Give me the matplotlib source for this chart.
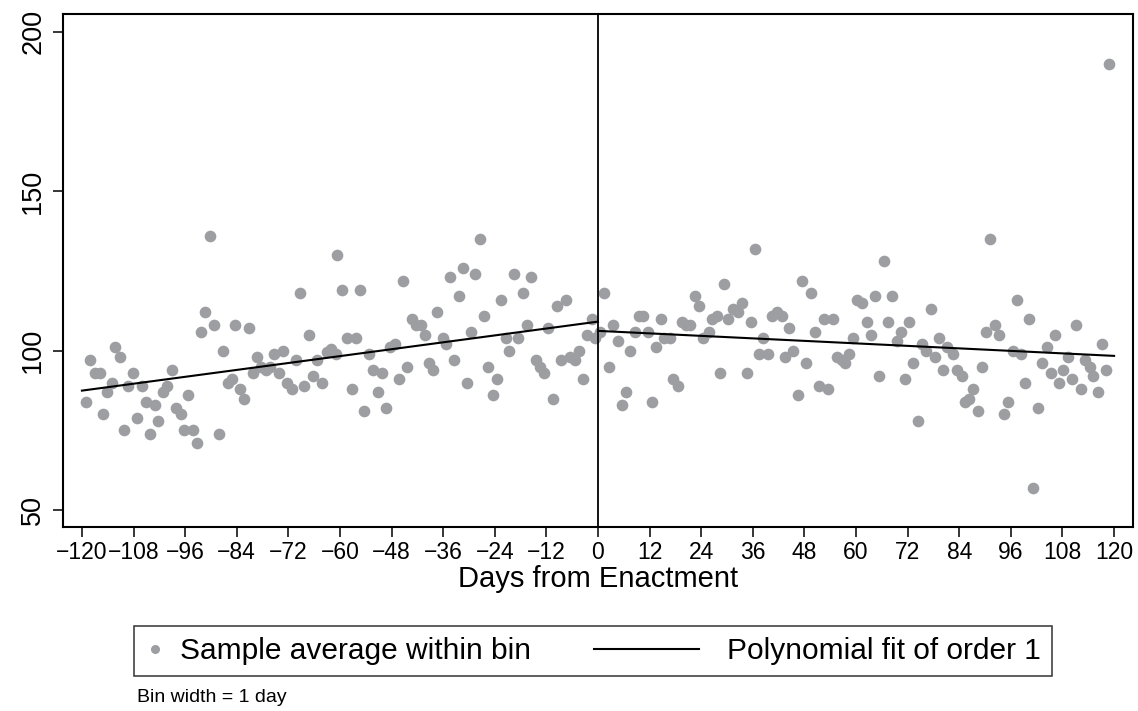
import numpy as np
import matplotlib
matplotlib.use("Agg")
import matplotlib.pyplot as plt
from matplotlib.lines import Line2D
from matplotlib.legend_handler import HandlerLine2D

plt.rcParams["font.family"] = ["Liberation Sans", "DejaVu Sans"]

# bin averages, days before enactment
left_x = [-119.1, -118.1, -117.0, -115.8, -115.2, -114.1, -113.1, -112.2, -111.2, -110.2,
          -109.2, -108.1, -107.2, -106.1, -105.1, -104.2, -103.0, -102.2, -101.1, -100.3,
          -99.1, -98.1, -97.0, -96.2, -95.3, -94.1, -93.2, -92.2, -91.4, -90.2,
          -89.2, -88.1, -87.3, -86.1, -85.2, -84.3, -83.3, -82.3, -81.2, -80.2,
          -79.2, -78.4, -77.3, -76.3, -75.3, -74.2, -73.2, -72.3, -71.2, -70.2,
          -69.3, -68.3, -67.2, -66.2, -65.3, -64.2, -63.1, -62.2, -61.0, -60.6,
          -59.5, -58.4, -57.3, -56.3, -55.3, -54.3, -53.3, -52.3, -51.2, -50.3,
          -49.3, -48.4, -47.2, -46.3, -45.3, -44.3, -43.3, -42.3, -41.2, -40.2,
          -39.3, -38.3, -37.4, -36.1, -35.3, -34.4, -33.4, -32.3, -31.5, -30.5,
          -29.6, -28.5, -27.4, -26.6, -25.5, -24.5, -23.4, -22.5, -21.5, -20.6,
          -19.6, -18.5, -17.5, -16.4, -15.5, -14.5, -13.6, -12.5, -11.6, -10.4,
          -9.5, -8.5, -7.5, -6.5, -5.4, -4.4, -3.4, -2.5, -1.5, -0.6]
left_y = [84, 97, 93, 93, 80, 87, 90, 101, 98, 75,
          89, 93, 79, 89, 84, 74, 83, 78, 87, 89,
          94, 82, 80, 75, 86, 75, 71, 106, 112, 136,
          108, 74, 100, 90, 91, 108, 88, 85, 107, 93,
          98, 95, 94, 95, 99, 93, 100, 90, 88, 97,
          118, 89, 105, 92, 97, 90, 99.5, 100.5, 99, 130,
          119, 104, 88, 104, 119, 81, 99, 94, 87, 93,
          82, 101, 102, 91, 122, 95, 110, 108, 108, 105,
          96, 94, 112, 104, 102, 123, 97, 117, 126, 90,
          106, 124, 135, 111, 95, 86, 91, 116, 104, 100,
          124, 104, 118, 108, 123, 97, 95, 93, 107, 85,
          114, 97, 116, 98, 97, 100, 91, 105, 110, 104]

# bin averages, days after enactment
right_x = [0.5, 1.5, 2.6, 3.6, 4.6, 5.5, 6.5, 7.4, 8.6, 9.6,
           10.5, 11.6, 12.5, 13.5, 14.6, 15.3, 16.7, 17.5, 18.5, 19.5,
           20.5, 21.4, 22.6, 23.6, 24.5, 25.7, 26.4, 27.6, 28.4, 29.3,
           30.3, 31.5, 32.6, 33.4, 34.6, 35.5, 36.5, 37.5, 38.4, 39.6,
           40.4, 41.6, 42.7, 43.5, 44.4, 45.4, 46.4, 47.4, 48.4, 49.5,
           50.5, 51.5, 52.6, 53.4, 54.6, 55.5, 56.7, 57.4, 58.4, 59.4,
           60.2, 61.5, 62.5, 63.4, 64.4, 65.3, 66.4, 67.4, 68.3, 69.5,
           70.4, 71.4, 72.4, 73.3, 74.3, 75.3, 76.3, 77.4, 78.4, 79.4,
           80.3, 81.2, 82.5, 83.4, 84.6, 85.3, 86.3, 87.3, 88.3, 89.2,
           90.2, 91.2, 92.3, 93.3, 94.3, 95.4, 96.4, 97.4, 98.3, 99.3,
           100.3, 101.2, 102.2, 103.3, 104.3, 105.3, 106.3, 107.3, 108.2, 109.2,
           110.3, 111.2, 112.3, 113.3, 114.3, 115.2, 116.2, 117.3, 118.1, 118.8]
right_y = [106, 118, 95, 108, 103, 83, 87, 100, 106, 111,
           111, 106, 84, 101, 110, 104, 104, 91, 89, 109,
           108, 108, 117, 114, 104, 106, 110, 111, 93, 121,
           110, 113, 112, 115, 93, 109, 132, 99, 104, 99,
           111, 112, 111, 98, 107, 100, 86, 122, 96, 118,
           106, 89, 110, 88, 110, 98, 97, 96, 99, 104,
           116, 115, 109, 105, 117, 92, 128, 109, 117, 103,
           106, 91, 109, 96, 78, 102, 100, 113, 98, 104,
           94, 101, 99, 94, 92, 84, 85, 88, 81, 95,
           106, 135, 108, 105, 80, 84, 100, 116, 99, 90,
           110, 57, 82, 96, 101, 93, 105, 90, 94, 98,
           91, 108, 88, 97, 95, 92, 87, 102, 94, 190]

x_ticks = list(range(-120, 121, 12))
y_ticks = [50, 100, 150, 200]

dot_color = "#9d9ea2"


class LongLineHandler(HandlerLine2D):
    # Stata-style legend key: a long line that sits left of the text
    def get_xdata(self, legend, xdescent, ydescent, width, height, fontsize):
        end = -xdescent + width - 0.38 * fontsize
        xd = np.array([end - 3.5 * fontsize, end])
        return xd, xd


fig = plt.figure(figsize=(11.38, 7.11), dpi=100)
ax = fig.add_axes([63 / 1138, 1 - 527 / 711, 1070 / 1138, 513 / 711])

ax.plot(left_x, left_y, "o", color=dot_color, ms=8.4, mec="none", zorder=2)
ax.plot(right_x, right_y, "o", color=dot_color, ms=8.4, mec="none", zorder=2)

# linear fits on each side of the cutoff
bl = np.polyfit(left_x, left_y, 1)
br = np.polyfit(right_x, right_y, 1)
xl = np.array([-120, 0])
xr = np.array([0, 120])
ax.plot(xl, np.polyval(bl, xl), color="black", lw=1.5, zorder=3)
ax.plot(xr, np.polyval(br, xr), color="black", lw=1.5, zorder=3)

ax.axvline(0, color="black", lw=1.3, zorder=3)

ax.set_xlim(-124.4, 124.4)
ax.set_ylim(44.7, 205.6)
ax.set_xticks(x_ticks)
ax.set_yticks(y_ticks)
ax.tick_params(axis="x", labelsize=16.5, length=7, width=1.1, pad=3)
ax.tick_params(axis="y", labelsize=19.5, length=7, width=1.1, pad=5)
for lab in ax.get_yticklabels():
    lab.set_rotation(90)
    lab.set_va("center")
for sp in ax.spines.values():
    sp.set_linewidth(1.5)
ax.set_xlabel("Days from Enactment", fontsize=21, labelpad=1)

h_dot = Line2D([], [], marker="o", ls="none", color=dot_color, ms=6.5, mec="none")
h_line = Line2D([], [], color="black", lw=1.5)
leg = fig.legend([h_dot, h_line],
                 ["Sample average within bin", "Polynomial fit of order 1"],
                 handler_map={h_line: LongLineHandler()},
                 loc="center", bbox_to_anchor=(593 / 1138, 1 - 651 / 711),
                 ncol=2, fontsize=21.5, frameon=True, fancybox=False,
                 handlelength=0.6, handletextpad=0.55, columnspacing=5.4,
                 borderpad=0.38, numpoints=1)
leg.get_frame().set_edgecolor("black")
leg.get_frame().set_linewidth(1.1)

fig.text(137 / 1138, 1 - 697 / 711, "Bin width = 1 day", fontsize=14, va="center")

fig.savefig("out.png", dpi=100)
